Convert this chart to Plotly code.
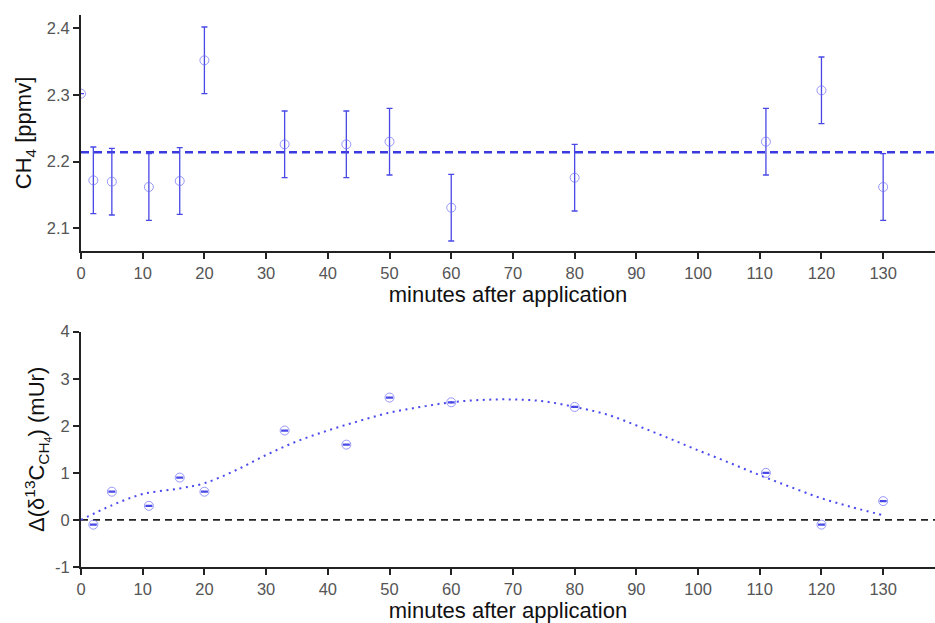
import plotly.graph_objects as go
from plotly.subplots import make_subplots

# ---- data ----
minutes = [0, 2, 5, 11, 16, 20, 33, 43, 50, 60, 80, 111, 120, 130]
ch4 = [2.302, 2.172, 2.170, 2.162, 2.171, 2.352, 2.226, 2.226, 2.230, 2.131, 2.176, 2.230, 2.307, 2.162]
ch4_err = [0.0, 0.05, 0.05, 0.05, 0.05, 0.05, 0.05, 0.05, 0.05, 0.05, 0.05, 0.05, 0.05, 0.05]
ch4_mean = 2.214

d13_minutes = [2, 5, 11, 16, 20, 33, 43, 50, 60, 80, 111, 120, 130]
d13 = [-0.1, 0.6, 0.3, 0.9, 0.6, 1.9, 1.6, 2.6, 2.5, 2.4, 1.0, -0.1, 0.4]
d13_err = [0.01] * len(d13)

fit_x = [0, 5, 10, 16, 20, 25, 30, 35, 40, 45, 50, 55, 60, 65, 70, 75, 80, 85, 90, 95, 100, 105, 110, 115, 120, 125, 130]
fit_y = [0.0, 0.31, 0.55, 0.67, 0.78, 1.05, 1.38, 1.67, 1.9, 2.1, 2.28, 2.40, 2.50, 2.55, 2.56, 2.52, 2.40, 2.25, 2.01, 1.75, 1.48, 1.22, 0.95, 0.70, 0.46, 0.27, 0.10]

x_ticks = [0, 10, 20, 30, 40, 50, 60, 70, 80, 90, 100, 110, 120, 130]
top_y_ticks = [2.1, 2.2, 2.3, 2.4]
top_y_text = ["2.1", "2.2", "2.3", "2.4"]
bot_y_ticks = [-1, 0, 1, 2, 3, 4]
bot_y_text = ["-1", "0", "1", "2", "3", "4"]
x_range = [0, 138.4]

# ---- style ----
marker_col = "rgba(110,110,250,0.7)"
err_col = "#4848e6"
font_fam = "Liberation Sans, Arial, sans-serif"
title_font = dict(family=font_fam, size=22, color="#111111")

fig = make_subplots(rows=2, cols=1, vertical_spacing=0.1)

fig.add_trace(go.Scatter(
    x=x_range, y=[ch4_mean, ch4_mean], mode="lines",
    line=dict(color="#3a3ae0", width=2.5, dash="8px,5px"), showlegend=False), row=1, col=1)
fig.add_trace(go.Scatter(
    x=minutes, y=ch4, mode="markers",
    marker=dict(symbol="circle-open", size=9, color=marker_col, line=dict(width=1)),
    error_y=dict(type="data", array=ch4_err, color=err_col, thickness=1.3, width=3),
    showlegend=False), row=1, col=1)

fig.add_trace(go.Scatter(
    x=x_range, y=[0, 0], mode="lines",
    line=dict(color="#222222", width=1.8, dash="7px,5px"), showlegend=False), row=2, col=1)
fig.add_trace(go.Scatter(
    x=fit_x, y=fit_y, mode="lines", line_shape="spline",
    line=dict(color="#4a4aee", width=2, dash="2px,4.5px"), showlegend=False), row=2, col=1)
fig.add_trace(go.Scatter(
    x=d13_minutes, y=d13, mode="markers",
    marker=dict(symbol="circle-open", size=9, color=marker_col, line=dict(width=1)),
    error_y=dict(type="data", array=d13_err, color=err_col, thickness=1.3, width=3.5),
    showlegend=False), row=2, col=1)

axis_common = dict(
    showgrid=False, zeroline=False, showline=True, linecolor="#222222", linewidth=2,
    ticks="outside", ticklen=6, tickcolor="#222222", tickwidth=1.5, automargin=False,
    tickfont=dict(family=font_fam, size=16.5, color="#555555"),
)

fig.update_xaxes(**axis_common, range=x_range, tickvals=x_ticks,
                 title=dict(text="minutes after application", font=title_font, standoff=1))
fig.update_yaxes(**axis_common)
fig.update_yaxes(range=[2.066, 2.42], tickvals=top_y_ticks, ticktext=top_y_text,
                 title=dict(text="CH<sub>4</sub> [ppmv]", font=title_font, standoff=9), row=1, col=1)
fig.update_yaxes(range=[-1, 4], tickvals=bot_y_ticks, ticktext=bot_y_text,
                 title=dict(text="Δ(δ<sup>13</sup>C<sub>CH<sub>4</sub></sub>) (mUr)",
                            font=title_font, standoff=4),
                 row=2, col=1)

fig.update_layout(
    width=935, height=623,
    margin=dict(l=81, r=0, t=15, b=56),
    paper_bgcolor="white", plot_bgcolor="white",
    font=dict(family=font_fam),
)
fig.layout.yaxis.domain = [0.5725, 1.0]
fig.layout.yaxis2.domain = [0.0, 0.4263]

fig.write_html("out.html", config={"displayModeBar": False},
               post_script="document.body.style.margin='0';")
